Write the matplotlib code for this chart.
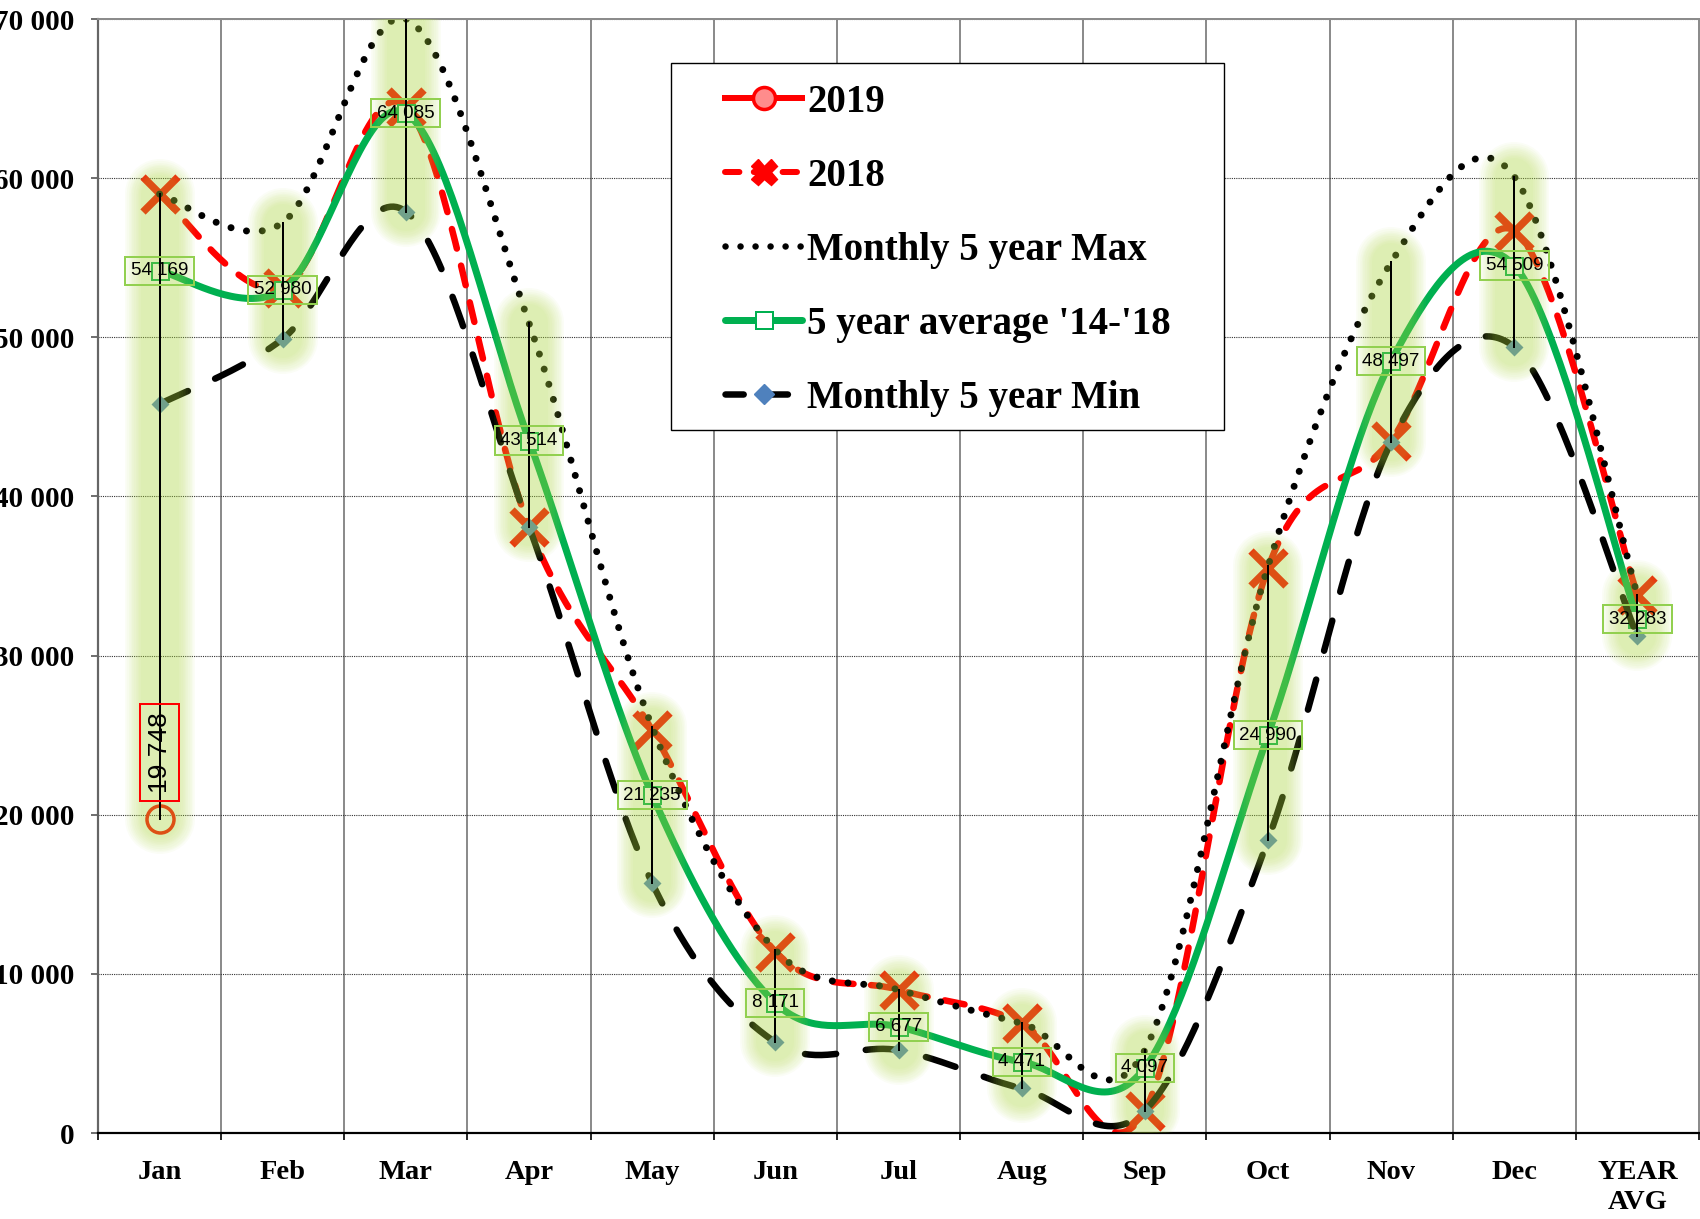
import numpy as np
import matplotlib
matplotlib.use('Agg')
import matplotlib.pyplot as plt
from matplotlib.lines import Line2D
from matplotlib.patches import Rectangle
from matplotlib.ticker import FuncFormatter, FixedLocator
from matplotlib.font_manager import FontProperties

# ---------------- data ----------------
categories = ['Jan', 'Feb', 'Mar', 'Apr', 'May', 'Jun', 'Jul', 'Aug', 'Sep',
              'Oct', 'Nov', 'Dec', 'YEAR\nAVG']
avg_14_18 = [54169, 52980, 64085, 43514, 21235, 8171, 6677, 4471, 4097,
             24990, 48497, 54509, 32283]
max_5yr = [59000, 57200, 70000, 50900, 25500, 11500, 9000, 6900, 5200,
           35600, 54700, 60100, 33800]
min_5yr = [45800, 49900, 57900, 38100, 15700, 5700, 5200, 2800, 1400,
           18400, 43400, 49400, 31200]
y2018 = [59000, 53100, 64500, 38100, 25300, 11400, 9000, 6900, 1400,
         35500, 43500, 56700, 33800]
y2019 = [19748]            # only January available
yticks = [0, 10000, 20000, 30000, 40000, 50000, 60000, 70000]

legend_labels = ['2019', '2018', 'Monthly 5 year Max', "5 year average '14-'18",
                 'Monthly 5 year Min']

# ---------------- helpers ----------------
def smooth(vals, n=40):
    """Excel-like smoothed line (Catmull-Rom Bezier) through the points."""
    y = np.asarray(vals, float)
    x = np.arange(len(y), dtype=float)
    xs, ys = [], []
    m = len(y)
    for i in range(m - 1):
        p0 = np.array([x[i], y[i]])
        p3 = np.array([x[i + 1], y[i + 1]])
        pm = np.array([x[i - 1], y[i - 1]]) if i > 0 else p0
        pp = np.array([x[i + 2], y[i + 2]]) if i + 2 < m else p3
        c1 = p0 + (p3 - pm) / 6.0
        c2 = p3 - (pp - p0) / 6.0
        t = np.linspace(0, 1, n, endpoint=(i == m - 2))[:, None]
        pts = ((1 - t) ** 3) * p0 + 3 * ((1 - t) ** 2) * t * c1 + \
              3 * (1 - t) * t ** 2 * c2 + t ** 3 * p3
        xs.append(pts[:, 0]); ys.append(pts[:, 1])
    return np.concatenate(xs), np.concatenate(ys)


def fmt(v, pos=None):
    return f"{v:,.0f}".replace(',', ' ')


W, H = 1700, 1219
fig = plt.figure(figsize=(W / 100, H / 100), dpi=100)
ax = fig.add_axes([98 / W, 1 - 1133 / H, (1699 - 98) / W, (1133 - 19) / H])

px = 0.72  # points per pixel

RED = '#FF0000'
GREEN = '#00B050'
x = np.arange(len(categories))

# ---------------- series lines ----------------
sx, sy = smooth(y2018)
ax.plot(sx, sy, color=RED, lw=6.5 * px, ls=(0, (3.1, 2.7)),
        dash_capstyle='round', zorder=2.0)
ax.plot(x, y2018, ls='none', marker='x', ms=35 * px, mew=7.5 * px,
        color=RED, zorder=2.05)

sx, sy = smooth(avg_14_18)
ax.plot(sx, sy, color=GREEN, lw=7 * px, solid_capstyle='round', zorder=2.1)
ax.plot(x, avg_14_18, ls='none', marker='s', ms=17 * px, mfc='white',
        mec=GREEN, mew=2 * px, zorder=2.15)

sx, sy = smooth(max_5yr)
ax.plot(sx, sy, color='black', lw=7 * px, ls=(0, (0.01, 2.25)),
        dash_capstyle='round', zorder=2.2)

sx, sy = smooth(min_5yr)
ax.plot(sx, sy, color='black', lw=6.5 * px, ls=(0, (4.8, 4.6)),
        dash_capstyle='round', zorder=2.3)
ax.plot(x, min_5yr, ls='none', marker='D', ms=13 * px, color='#4F81BD',
        mec='none', zorder=2.35)

ax.plot(x[:len(y2019)], y2019, ls='none', marker='o', ms=27 * px,
        mew=3.5 * px, mec=RED, mfc='none', zorder=2.4)

# ---------------- glow + high-low lines ----------------
glow_col = (177 / 255, 221 / 255, 65 / 255)
n_layers = 10
widths = np.linspace(70, 38, n_layers)
a = 1 - (1 - 0.38) ** (1 / n_layers)
for i in range(len(categories)):
    vals = [avg_14_18[i], max_5yr[i], min_5yr[i], y2018[i]]
    if i < len(y2019):
        vals.append(y2019[i])
    lo, hi = min(vals), max(vals)
    for w in widths:
        ax.plot([i, i], [lo, hi], color=glow_col, alpha=a, lw=w * px,
                solid_capstyle='round', zorder=3)
    ax.plot([i, i], [lo, hi], color='black', lw=2 * px, zorder=4)

# ---------------- data labels ----------------
for i, v in enumerate(avg_14_18):
    ax.text(i, v, fmt(v), ha='center', va='center', fontsize=13.5,
            family='Liberation Sans', color='black', zorder=6,
            bbox=dict(boxstyle='square,pad=0.3', fc='none', ec='#92D050',
                      lw=2 * px))
for i, v in enumerate(y2019):
    ax.annotate(fmt(v), xy=(i, v), xytext=(0, 66 * px), textcoords='offset points',
                rotation=90, ha='center', va='center', fontsize=19,
                family='Liberation Sans', color='black', zorder=6,
                bbox=dict(boxstyle='square,pad=0.3', fc='none', ec=RED,
                          lw=2 * px))

# ---------------- axes styling ----------------
ax.set_xlim(-0.5, len(categories) - 0.5)
ax.set_ylim(0, 70000)
ax.set_yticks(yticks)
ax.yaxis.set_major_formatter(FuncFormatter(fmt))
ax.set_xticks(x)
ax.set_xticklabels(categories)
ax.xaxis.set_minor_locator(FixedLocator(np.arange(-0.5, len(categories), 1.0)))

ax.tick_params(axis='x', which='major', length=0, pad=19.5, labelsize=20.5)
ax.tick_params(axis='x', which='minor', length=7 * px, width=1.2, color='black',
               direction='out')
ax.tick_params(axis='y', which='major', length=7 * px, width=1.2, color='#555555',
               direction='out', pad=12, labelsize=21)
for lab in ax.get_xticklabels() + ax.get_yticklabels():
    lab.set_fontfamily('Liberation Serif')
    lab.set_fontweight('bold')
for lab in ax.get_xticklabels():
    lab.set_linespacing(1.27)

ax.grid(False)
ax.grid(which='minor', axis='x', color='#8C8C8C', lw=2 * px, ls='-', zorder=0)
ax.grid(which='major', axis='y', color='#333333', lw=0.8, ls=(0, (1, 1)), zorder=0)
ax.set_axisbelow(True)

ax.spines['left'].set_color('#666666')
ax.spines['left'].set_linewidth(2.2 * px)
ax.spines['bottom'].set_color('black')
ax.spines['bottom'].set_linewidth(2.2 * px)
ax.spines['top'].set_color('#8C8C8C')
ax.spines['top'].set_linewidth(2 * px)
ax.spines['right'].set_color('#8C8C8C')
ax.spines['right'].set_linewidth(2 * px)

# ---------------- legend ----------------
handles = [
    Line2D([], [], color=RED, lw=6 * px, marker='o', ms=22 * px,
           mec=RED, mfc=(1, 0.55, 0.55), mew=3.5 * px),
    Line2D([], [], color=RED, lw=6 * px, ls=(0, (2.4, 2.4)),
           dash_capstyle='round', marker='X', ms=26 * px, mec=RED, mfc=RED),
    Line2D([], [], color='black', lw=6.5 * px, ls=(0, (0.01, 2.3)),
           dash_capstyle='round'),
    Line2D([], [], color=GREEN, lw=7 * px, solid_capstyle='round', marker='s',
           ms=17 * px, mfc='white', mec=GREEN, mew=2 * px),
    Line2D([], [], color='black', lw=6.5 * px, ls=(0, (2.8, 4.0)),
           dash_capstyle='round', marker='D', ms=14 * px, mfc='#4F81BD',
           mec='#4F81BD'),
]
frame = Rectangle((671 / W, 1 - 430 / H), 553 / W, 367 / H,
                  transform=fig.transFigure, facecolor='white',
                  edgecolor='black', lw=1.0, zorder=4)
fig.add_artist(frame)
leg = fig.legend(handles, legend_labels, loc='upper left',
                 bbox_to_anchor=(725 / W, 1 - 84 / H),
                 bbox_transform=fig.transFigure, frameon=False,
                 prop=FontProperties(family='Liberation Serif', weight='bold',
                                     size=28),
                 handlelength=1.98, handletextpad=0.13, labelspacing=0.95,
                 borderpad=0, borderaxespad=0)
leg.set_zorder(5)

fig.savefig('out.png', dpi=100)
